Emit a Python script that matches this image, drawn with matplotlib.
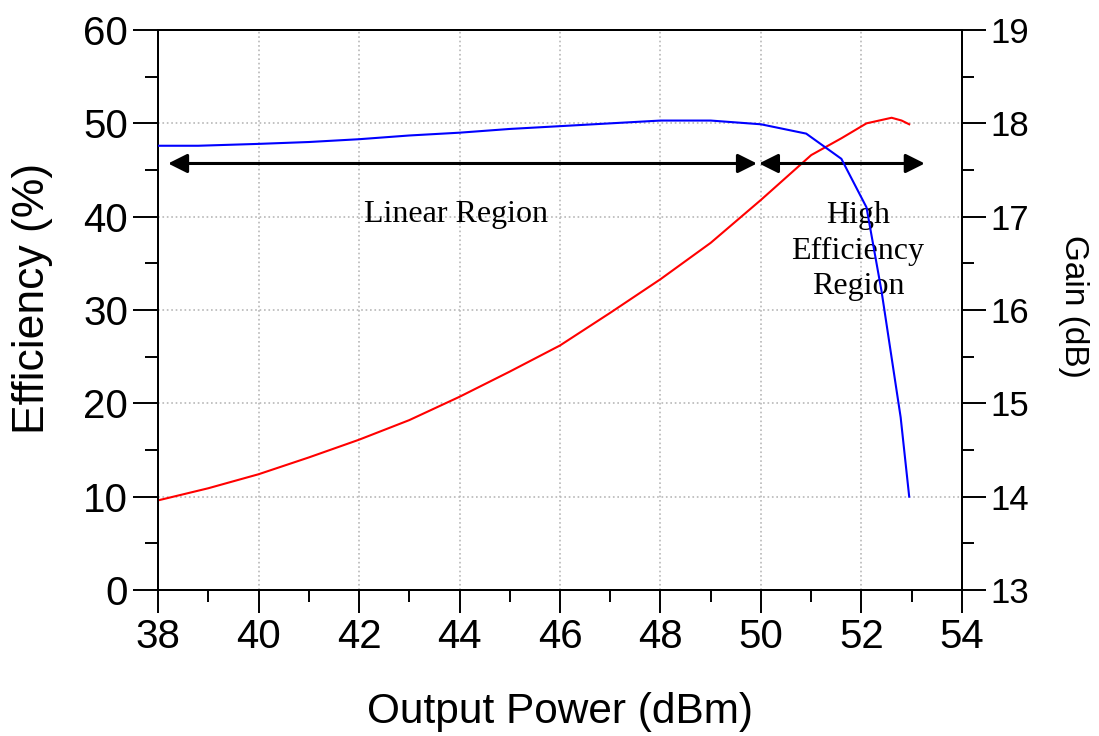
import numpy as np
import matplotlib
matplotlib.use("Agg")
import matplotlib.pyplot as plt
from matplotlib.ticker import MultipleLocator

# efficiency curve (left axis)
pout_eff = [38, 39, 40, 41, 42, 43, 44, 45, 46, 47, 48, 49, 50, 51, 51.6, 52.1, 52.6, 52.8, 52.95]
efficiency = [9.6, 10.9, 12.4, 14.2, 16.1, 18.2, 20.7, 23.4, 26.2, 29.7, 33.3, 37.2, 41.8, 46.6, 48.4, 50.0, 50.6, 50.3, 49.9]

# gain curve (right axis)
pout_gain = [38, 38.8, 40, 41, 42, 43, 44, 45, 46, 47, 48, 49, 50, 50.9, 51.6, 52.1, 52.4, 52.78, 52.95]
gain = [17.76, 17.76, 17.78, 17.80, 17.83, 17.87, 17.90, 17.94, 17.97, 18.00, 18.03, 18.03, 17.99, 17.89, 17.62, 17.10, 16.2, 14.85, 14.0]

x_ticks = [38, 40, 42, 44, 46, 48, 50, 52, 54]
eff_ticks = [0, 10, 20, 30, 40, 50, 60]
gain_ticks = [13, 14, 15, 16, 17, 18, 19]

plt.rcParams['font.family'] = ['Liberation Sans', 'DejaVu Sans']

fig = plt.figure(figsize=(10.99, 7.36), dpi=100)
ax = fig.add_axes([0.1438, 0.1984, 0.7315, 0.7608])
ax2 = ax.twinx()

ax.plot(pout_eff, efficiency, color='red', lw=1.5, zorder=3)
ax2.plot(pout_gain, gain, color='blue', lw=1.5, zorder=3)

ax.set_xlim(38, 54)
ax.set_ylim(0, 60)
ax2.set_ylim(13, 19)
ax.set_xticks(x_ticks)
ax.set_yticks(eff_ticks)
ax2.set_yticks(gain_ticks)
ax.xaxis.set_minor_locator(MultipleLocator(1))
ax.yaxis.set_minor_locator(MultipleLocator(5))
ax2.yaxis.set_minor_locator(MultipleLocator(0.5))

ax.grid(True, which='major', linestyle=':', color='#b8b8b8', lw=1.2)
ax.set_axisbelow(True)

for a in (ax, ax2):
    for s in a.spines.values():
        s.set_linewidth(1.4)

ax.tick_params(axis='y', which='major', direction='out', length=18, width=1.4, pad=3.5, labelsize=29)
ax.tick_params(axis='y', which='minor', direction='out', length=9.4, width=1.4)
ax.tick_params(axis='x', which='major', direction='out', length=16.5, width=1.4, pad=4, labelsize=29)
ax.tick_params(axis='x', which='minor', direction='out', length=8.6, width=1.4)
ax2.tick_params(axis='y', which='major', direction='out', length=17, width=1.4, pad=3.5, labelsize=25)
ax2.tick_params(axis='y', which='minor', direction='out', length=8.6, width=1.4)

ax.set_xlabel('Output Power (dBm)', fontsize=30.5)
ax.xaxis.set_label_coords(0.5, -0.182)
ax.set_ylabel('Efficiency (%)', fontsize=32)
ax.yaxis.set_label_coords(-0.131, 0.52)
ax2.set_ylabel('Gain (dB)', fontsize=24, rotation=270, va='bottom')
ax2.yaxis.set_label_coords(1.12, 0.507)

# region arrows
arrow_kw = dict(arrowstyle='<|-|>', lw=2.2, color='black', mutation_scale=29,
                shrinkA=0, shrinkB=0)
ax.annotate('', xy=(38.2, 45.7), xytext=(49.92, 45.7), arrowprops=arrow_kw)
ax.annotate('', xy=(49.96, 45.7), xytext=(53.26, 45.7), arrowprops=arrow_kw)

ax.text(43.93, 40.2, 'Linear Region', family='Liberation Serif', fontsize=23,
        ha='center', va='center')
ax.text(51.93, 36.3, 'High\nEfficiency\nRegion', family='Liberation Serif', fontsize=23,
        ha='center', va='center', linespacing=1.3)

fig.savefig('out.png', dpi=100)
